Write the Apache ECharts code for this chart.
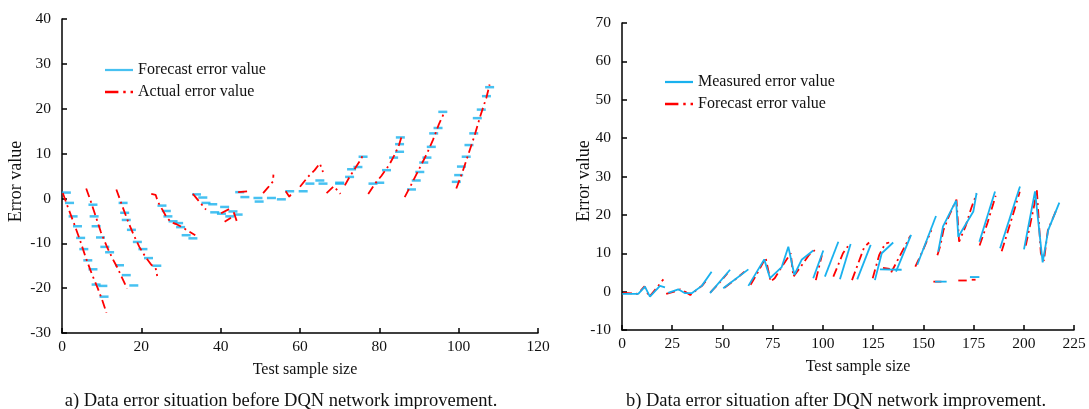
<!DOCTYPE html>
<html>
<head>
<meta charset="utf-8">
<script src="https://cdn.jsdelivr.net/npm/echarts@6/dist/echarts.min.js"></script>
<style>html,body{margin:0;padding:0;background:#fff;}#c{width:1089px;height:409px;}</style>
</head>
<body>
<div id="c"></div>
<script>
// ---------- Panel a) data ----------
var leftForecast = [
  [1.1,1.3],[1.9,-1],[2.8,-4],[3.9,-6.2],[4.7,-8.8],[5.5,-11.3],[6.5,-13.8],[7.8,-15.8],[8.6,-19.2],[10.3,-19.5],[10.6,-21.9],
  [7.8,-1.4],[8.1,-4],[8.6,-6.2],[9.7,-8.7],[10.8,-10.8],[12,-12],[14.5,-14.9],[16.2,-17.1],[18.1,-19.4],
  [15.4,-1],[15.8,-3.2],[16.2,-4.8],[17.5,-7],[19,-9.7],[20.4,-11.3],[21.8,-13.3],[23.9,-15],
  [25.2,-1.6],[26.3,-2.8],[26.7,-4],[28,-5.1],[29.4,-5.5],[29.9,-6.4],[31.3,-8.2],[33,-8.9],
  [33.9,0.9],[35.5,0.2],[36.3,-1],[38,-1.3],[38.5,-3.1],[40.2,-3.4],[41,-1.9],[42.3,-4],[43.1,-2.9],[44.4,-3.6],
  [44.8,1.4],[46.1,0.3],[49.4,0.1],[49.7,-0.7],[52.8,0.1],[55.3,-0.2],[57.4,1.6],[60.8,1.6],[62.5,3.3],[65,4],[65.8,3.3],
  [70,3.3],[70,3.5],[72.5,4.8],[73,6.5],[74.6,7],[75.9,9.3],
  [78.4,3.3],[80.1,3.5],[81.8,6.3],[83.6,9.1],[85.1,10.4],[85.1,12.1],[85.3,13.6],
  [88.1,2],[89.3,4],[90.2,5.9],[91.2,8],[92,9.1],[93.1,11.5],[93.7,14.5],[94.8,15.7],[96,19.3],
  [99.4,3.7],[100,5.2],[100.7,7.1],[101.9,9.3],[102.6,11.9],[103.8,14.5],[104.7,17.9],[105.7,19.8],[107,22.8],[107.8,24.8]
];
var leftActual = [
  [[0.2,1.2],[1.5,-2],[3,-5.5],[4.5,-9.2],[6,-13.2],[7.5,-16.8],[9,-20],[10.2,-22.8],[11.2,-25.5]],
  [[6.1,2.2],[7.2,-0.5],[8.5,-4],[9.8,-7.5],[11.2,-10.5],[12.5,-13],[14,-15.5],[15.3,-18],[16.4,-20.1]],
  [[13.7,2],[15,-1.2],[16.5,-4.8],[18,-8],[19.5,-10.8],[21,-13],[22.5,-14.8],[23.6,-15.5],[24,-17.3]],
  [[22.5,1],[23.6,0.8],[24.2,-0.8],[25.3,-2.5],[26.3,-4.1],[27.5,-5.3],[29,-5.8],[30.5,-6.5],[31.7,-7.2],[33.6,-8.2]],
  [[33,1],[34.6,-0.7],[36.3,-2.5]],
  [[40.1,-3.3],[42.5,-2.2]],
  [[41,-5.2],[42.6,-4.3]],
  [[43.3,-3.1],[44.3,-5.7]],
  [[44.4,1.4],[46.9,1.6]],
  [[50.7,1.2],[52,2.5],[53.2,3.8],[53.3,5.3]],
  [[56.4,1.6],[57.3,0.4],[58.2,1.4]],
  [[60,2.6],[62,4.8],[63.7,6.3],[65,7.8],[65.8,5.9]],
  [[66.7,1.2],[68.5,2.7],[70.2,1.0]],
  [[71.3,2.9],[72.5,4.8],[74.1,7],[75.5,8.9],[75.9,10]],
  [[77.2,1],[78.9,3.3],[80.5,5],[82.5,7.5],[84,10],[85,12],[85.6,13.8]],
  [[86.4,0.3],[88,3],[90,6.5],[92,10],[93.5,13],[95,16.5],[96.5,19.4]],
  [[99.4,2.2],[101,6],[102.5,10],[104,14],[105.5,18.5],[107,22.5],[107.8,25.4]]
];
// ---------- Panel b) data ----------
var rightMeasured = [
  [[0.2,-0.6],[8.1,-0.6],[11.4,1.3],[13.9,-1.3],[18.9,1.5],[21.4,1.1]],
  [[23,-0.3],[28,0.6],[31.4,-0.4],[34.7,-0.4],[39.7,1.5],[44.6,5.2]],
  [[43.8,-0.4],[53.8,5.7]],
  [[50.4,0.9],[62.9,5.8]],
  [[62.9,1.5],[70.8,8.4],[73.7,3.5],[79.5,6.4],[82.8,11.7],[85.8,4.4],[89.4,8.3],[95.2,10.7]],
  [[95.2,3.5],[100.2,10.7]],
  [[101,3.9],[107.7,13]],
  [[108.5,3.2],[113.8,12.4]],
  [[117.1,3.2],[123.8,12.2]],
  [[125.9,3],[129.3,10],[135,12.8]],
  [[128.4,5.8],[139.2,5.7]],
  [[136.4,5.2],[143.9,14.8]],
  [[147,7],[156.3,19.7]],
  [[157.4,10.4],[159.8,17],[166.3,23.7],[167.4,14.3],[174.9,20.9],[176.5,25.7]],
  [[155.8,2.6],[161.6,2.6]],
  [[173.2,3.8],[177.9,3.8]],
  [[177.9,13],[185.7,26.1]],
  [[188.2,11.3],[198.1,27.4]],
  [[200.1,11],[205.6,26.1],[209.4,7.6],[212.2,16.1],[217.7,23.2]]
];
var rightForecast = [
  [[0.5,-0.3],[8,-0.6],[11.2,1.4],[13.6,-1.4],[17,0.8],[20.6,3.2]],
  [[22,-0.6],[26,0],[29,0.6],[32,-0.2],[34,-0.9],[36,0],[40,1.6],[42.5,3.3]],
  [[44,-0.2],[48,2],[52.5,4.8]],
  [[51,1],[56,3],[61,5.2]],
  [[64,1.8],[67,4.5],[71.5,8.8],[74,2.6],[76,3.5],[79,6],[84,10],[85.3,3.9],[89,6.5],[93,9.5],[96,10.8]],
  [[96.5,3],[99.5,9.5]],
  [[105.2,3.9],[110,10],[113.5,12.6]],
  [[114.5,3],[120.5,11.5],[123,12.8]],
  [[124.8,3.5],[128,9.5],[131,12.5],[133,12.8]],
  [[129.9,6.2],[133.3,5.9]],
  [[134,5],[140,11],[143.5,14.5]],
  [[146,6.5],[150,11],[154,16]],
  [[157,9.5],[158.5,12],[160,16],[163,20],[166.5,24],[167.8,13],[171,17],[174,22],[176.5,25.5]],
  [[155,2.6],[159,2.6]],
  [[167.4,2.9],[171.6,2.9]],
  [[174.1,3.1],[176,3.1]],
  [[178,12],[182,18],[186,25]],
  [[189,10.5],[194,19],[198,26]],
  [[201,12],[205,22],[206.5,26.5],[208.5,10],[210,8],[212,16],[216,21]]
];

var FONT = '"Liberation Serif", "DejaVu Serif", serif';
var BLUE = '#19b1ee';
var RED = '#ff0000';
var ICON_SOLID = 'path://M0,0H25V2H0Z';
var ICON_DASHDOT = 'path://M0,0H11V2H0Z M15,0H17V2H15Z M21,0H23V2H21Z';

function axisCommon(min, max, interval) {
  return {
    type: 'value', min: min, max: max, interval: interval,
    axisLine: {show: true, onZero: false, lineStyle: {color: '#000', width: 1.5}},
    axisTick: {show: true, inside: true, length: 5, lineStyle: {color: '#000', width: 1.5}},
    axisLabel: {color: '#111', fontFamily: FONT, fontSize: 15.5},
    splitLine: {show: false}
  };
}

var xa0 = axisCommon(0, 120, 20); xa0.gridIndex = 0; xa0.axisLabel.margin = 6;
xa0.name = 'Test sample size'; xa0.nameLocation = 'middle'; xa0.nameGap = 29;
xa0.nameTextStyle = {color: '#111', fontFamily: FONT, fontSize: 16, padding: [0, 0, 0, 10]};
var ya0 = axisCommon(-30, 40, 10); ya0.gridIndex = 0; ya0.axisLabel.margin = 11;
var xa1 = axisCommon(0, 225, 25); xa1.gridIndex = 1; xa1.axisLabel.margin = 6;
xa1.name = 'Test sample size'; xa1.nameLocation = 'middle'; xa1.nameGap = 29;
xa1.nameTextStyle = {color: '#111', fontFamily: FONT, fontSize: 16, padding: [0, 0, 0, 20]};
var ya1 = axisCommon(-10, 70, 10); ya1.gridIndex = 1; ya1.axisLabel.margin = 11;

var series = [];
series.push({
  name: 'Forecast error value', type: 'scatter', xAxisIndex: 0, yAxisIndex: 0,
  symbol: 'rect', symbolSize: [9, 2.5], itemStyle: {color: BLUE}, data: leftForecast, z: 3
});
leftActual.forEach(function (seg) {
  series.push({
    name: 'Actual error value', type: 'line', xAxisIndex: 0, yAxisIndex: 0,
    symbol: 'none', data: seg, z: 4,
    lineStyle: {color: RED, width: 1.8, type: [9, 4, 2, 4]}, itemStyle: {color: RED}
  });
});
rightForecast.forEach(function (seg) {
  series.push({
    name: 'Forecast error value ', type: 'line', xAxisIndex: 1, yAxisIndex: 1,
    symbol: 'none', data: seg, z: 2,
    lineStyle: {color: RED, width: 1.8, type: [9, 4, 2, 4]}, itemStyle: {color: RED}
  });
});
rightMeasured.forEach(function (seg) {
  series.push({
    name: 'Measured error value', type: 'line', xAxisIndex: 1, yAxisIndex: 1,
    symbol: 'none', data: seg, z: 3,
    lineStyle: {color: BLUE, width: 1.8}, itemStyle: {color: BLUE}
  });
});

var legendText = {color: '#111', fontFamily: FONT, fontSize: 16};
var option = {
  animation: false,
  backgroundColor: '#fff',
  grid: [
    {left: 62, top: 19, width: 476, height: 314},
    {left: 622, top: 23, width: 452, height: 307}
  ],
  xAxis: [xa0, xa1],
  yAxis: [ya0, ya1],
  legend: [
    {left: 100, top: 57, orient: 'vertical', itemWidth: 28, itemHeight: 14, itemGap: 6,
     selectedMode: false, textStyle: legendText,
     data: [{name: 'Forecast error value', icon: ICON_SOLID}, {name: 'Actual error value', icon: ICON_DASHDOT}]},
    {left: 660, top: 69, orient: 'vertical', itemWidth: 28, itemHeight: 14, itemGap: 6,
     selectedMode: false, textStyle: legendText,
     data: [{name: 'Measured error value', icon: ICON_SOLID}, {name: 'Forecast error value ', icon: ICON_DASHDOT}]}
  ],
  graphic: [
    {type: 'text', x: 16.5, y: 181.5, rotation: Math.PI / 2,
     style: {text: 'Error value', fill: '#111', fontFamily: FONT, fontSize: 18, align: 'center', verticalAlign: 'middle'}},
    {type: 'text', x: 584, y: 181, rotation: Math.PI / 2,
     style: {text: 'Error value', fill: '#111', fontFamily: FONT, fontSize: 18, align: 'center', verticalAlign: 'middle'}},
    {type: 'text', x: 281, y: 401,
     style: {text: 'a) Data error situation before DQN network improvement.', fill: '#111', fontFamily: FONT, fontSize: 18.5, align: 'center', verticalAlign: 'middle'}},
    {type: 'text', x: 836, y: 401,
     style: {text: 'b) Data error situation after DQN network improvement.', fill: '#111', fontFamily: FONT, fontSize: 18.5, align: 'center', verticalAlign: 'middle'}}
  ],
  series: series
};
var chart = echarts.init(document.getElementById('c'), null, {renderer: 'canvas'});
chart.setOption(option);
</script>
</body>
</html>
